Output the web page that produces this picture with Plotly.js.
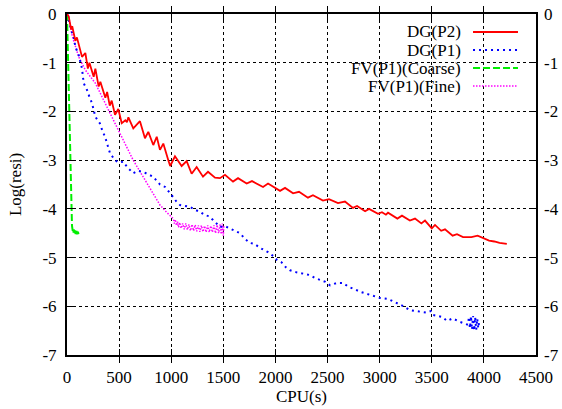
<!DOCTYPE html>
<html>
<head>
<meta charset="utf-8">
<script src="https://cdn.plot.ly/plotly-3.0.1.min.js"></script>
<style>html,body{margin:0;padding:0;background:#fff;}#chart{width:562px;height:409px;}</style>
</head>
<body>
<div id="chart"></div>
<script>
// DG(P2)
const dgP2X = [0,16,40,50,80,95,144,176,200,215,256,272,304,320,368,385,410,429,461,492,525,560,575,589,636,660,700,748,780,828,861,892,924,972,990,1036,1100,1148,1196,1244,1305,1353,1420,1468,1516,1593,1641,1724,1775,1881,1929,2044,2092,2169,2226,2312,2360,2456,2514,2600,2667,2744,2783,2860,2898,2984,3022,3060,3080,3170,3214,3290,3339,3400,3435,3500,3531,3590,3627,3700,3742,3800,3880,3940,3990,4050,4100,4150,4220];
const dgP2Y = [0,-0.05,-0.32,-0.25,-0.55,-0.48,-0.88,-0.8,-1.12,-1.0,-1.29,-1.12,-1.49,-1.39,-1.72,-1.6,-1.88,-1.78,-2.07,-1.95,-2.24,-2.18,-2.22,-2.12,-2.35,-2.3,-2.2,-2.55,-2.42,-2.69,-2.52,-2.79,-2.66,-3.0,-3.12,-2.92,-3.12,-3.02,-3.28,-3.14,-3.34,-3.24,-3.36,-3.37,-3.3,-3.44,-3.37,-3.48,-3.43,-3.55,-3.48,-3.63,-3.57,-3.68,-3.65,-3.77,-3.72,-3.83,-3.8,-3.88,-3.85,-3.98,-3.94,-4.05,-4.0,-4.1,-4.07,-4.12,-4.08,-4.2,-4.14,-4.24,-4.2,-4.3,-4.24,-4.4,-4.33,-4.45,-4.42,-4.55,-4.52,-4.58,-4.58,-4.55,-4.6,-4.65,-4.67,-4.7,-4.72];

// DG(P1)
const dgP1X = [0,32,50,64,80,112,130,144,160,192,215,240,272,317,340,365,390,413,460,500,539,580,636,680,729,780,826,892,941,1005,1050,1084,1130,1180,1230,1276,1324,1360,1401,1440,1468,1520,1564,1610,1660,1710,1756,1800,1852,1929,1980,2015,2060,2100,2140,2200,2236,2290,2332,2380,2428,2480,2524,2590,2648,2700,2760,2811,2900,3003,3080,3166,3230,3290,3380,3450,3490,3512,3560,3600,3646,3700,3771,3820,3848,3856,3866,3876,3886,3896,3906,3916,3926,3936,3946,3956];
const dgP1Y = [0,-0.29,-0.4,-0.47,-0.67,-0.84,-1.0,-1.12,-1.42,-1.56,-1.7,-1.83,-2.11,-2.25,-2.4,-2.52,-2.7,-2.86,-3.0,-3.05,-3.03,-3.15,-3.27,-3.22,-3.24,-3.3,-3.34,-3.5,-3.55,-3.72,-3.85,-3.92,-3.94,-3.96,-4.02,-4.06,-4.13,-4.15,-4.23,-4.3,-4.37,-4.36,-4.4,-4.45,-4.5,-4.62,-4.7,-4.72,-4.8,-4.89,-4.97,-5.05,-5.1,-5.2,-5.26,-5.3,-5.32,-5.34,-5.36,-5.42,-5.46,-5.5,-5.57,-5.52,-5.52,-5.6,-5.65,-5.7,-5.76,-5.83,-5.85,-5.93,-6.0,-6.08,-6.1,-6.13,-6.1,-6.18,-6.2,-6.22,-6.3,-6.25,-6.32,-6.35,-6.38,-6.22,-6.45,-6.2,-6.48,-6.2,-6.5,-6.22,-6.48,-6.25,-6.45,-6.3];

// FV(P1)(Coarse)
const fvCoarseX = [0,5,10,15,20,27,32,36,40,44,48,55,60,65,72,78,85,92,98,105,110];
const fvCoarseY = [0,-0.5,-1.0,-1.6,-2.1,-2.6,-3.0,-3.5,-3.9,-4.2,-4.35,-4.45,-4.5,-4.42,-4.53,-4.44,-4.55,-4.45,-4.55,-4.47,-4.52];

// FV(P1)(Fine)
const fvFineX = [0,16,50,80,112,176,272,336,400,508,635,765,845,892,960,1004,1020,1030,1040,1050,1060,1070,1080,1095,1110,1125,1140,1155,1170,1185,1200,1215,1230,1245,1260,1275,1290,1305,1320,1335,1350,1365,1380,1395,1410,1425,1440,1455,1470,1480,1490,1500,1505];
const fvFineY = [0,-0.05,-0.45,-0.67,-0.88,-1.15,-1.42,-1.7,-1.97,-2.45,-3.0,-3.48,-3.75,-3.92,-4.08,-4.16,-4.2,-4.3,-4.22,-4.34,-4.26,-4.38,-4.28,-4.4,-4.3,-4.42,-4.3,-4.43,-4.32,-4.45,-4.32,-4.45,-4.33,-4.46,-4.34,-4.47,-4.34,-4.47,-4.35,-4.48,-4.34,-4.48,-4.35,-4.48,-4.34,-4.5,-4.33,-4.5,-4.32,-4.52,-4.3,-4.55,-4.35];

const seriesNames = ['DG(P2)','DG(P1)','FV(P1)(Coarse)','FV(P1)(Fine)'];
const colors = ['#ff0000','#0000ff','#00ee00','#ff00ff'];
const dashes = ['solid','2px,4px','7px,3px','1.5px,1.5px'];
const widths = [1.8,2,2,1.5];
const xTicks = [0,500,1000,1500,2000,2500,3000,3500,4000,4500];
const yTicks = [0,-1,-2,-3,-4,-5,-6,-7];

const xs = [dgP2X,dgP1X,fvCoarseX,fvFineX];
const ys = [dgP2Y,dgP1Y,fvCoarseY,fvFineY];
const order = [3,2,1,0];
const traces = order.map(i => ({
  x: xs[i], y: ys[i], type:'scatter', mode:'lines', name: seriesNames[i],
  line:{color:colors[i], width:widths[i], dash:dashes[i]}, showlegend:false, hoverinfo:'skip'
}));
// invisible copy on the right-hand axis so that its tick labels are drawn
traces.push({x: dgP2X, y: dgP2Y, yaxis:'y2', type:'scatter', mode:'lines', opacity:0,
  line:{width:0}, showlegend:false, hoverinfo:'skip'});

const font = {family:'Liberation Serif, Times New Roman, serif', size:17, color:'#000'};

// manual legend (text left of sample)
const legTextX = 0.8443, legL0 = 0.8657, legL1 = 0.9616;
const rowPx = [32,50,68,86];
const annotations = [], shapes = [];
shapes.push({type:'rect', xref:'paper', yref:'paper', x0:0.556, x1:0.996, y0:0.752, y1:0.985,
  fillcolor:'#fff', line:{width:0}, layer:'between'});
seriesNames.forEach((n,i) => {
  const py = 1 - (rowPx[i]-14)/341;
  annotations.push({xref:'paper', yref:'paper', x:legTextX, y:py, xanchor:'right', yanchor:'middle',
    text:n, showarrow:false, font:font});
  shapes.push({type:'line', xref:'paper', yref:'paper', x0:legL0, x1:legL1, y0:py, y1:py,
    line:{color:colors[i], width:widths[i], dash:dashes[i]}});
});

const layout = {
  width:562, height:409,
  margin:{l:67, r:26, t:14, b:54, pad:0},
  paper_bgcolor:'#fff', plot_bgcolor:'#fff',
  font: font,
  showlegend:false,
  xaxis:{range:[0,4500], tickvals:xTicks, ticktext:xTicks.map(String),
    ticks:'inside', ticklen:6, tickwidth:1, tickcolor:'#000',
    showline:true, linecolor:'#000', linewidth:2, mirror:'allticks',
    showgrid:true, gridcolor:'#000', gridwidth:1, griddash:'dot', zeroline:false,
    ticklabelstandoff:6, tickfont:font,
    title:{text:'CPU(s)', font:font, standoff:4}},
  yaxis:{range:[-7,0], tickvals:yTicks, ticktext:yTicks.map(String),
    ticks:'inside', ticklen:6, tickwidth:1, tickcolor:'#000',
    showline:true, linecolor:'#000', linewidth:2, mirror:'allticks',
    showgrid:true, gridcolor:'#000', gridwidth:1, griddash:'dot', zeroline:false,
    ticklabelstandoff:5, tickfont:font,
    title:{text:'Log(resi)', font:font, standoff:16}},
  yaxis2:{range:[-7,0], tickvals:yTicks, ticktext:yTicks.map(String), overlaying:'y', side:'right',
    ticks:'inside', ticklen:6, tickcolor:'#000', showgrid:false, zeroline:false, showline:false,
    ticklabelstandoff:7, tickfont:font},
  annotations: annotations,
  shapes: shapes
};

Plotly.newPlot('chart', traces, layout, {staticPlot:true, displayModeBar:false});
</script>
</body>
</html>
